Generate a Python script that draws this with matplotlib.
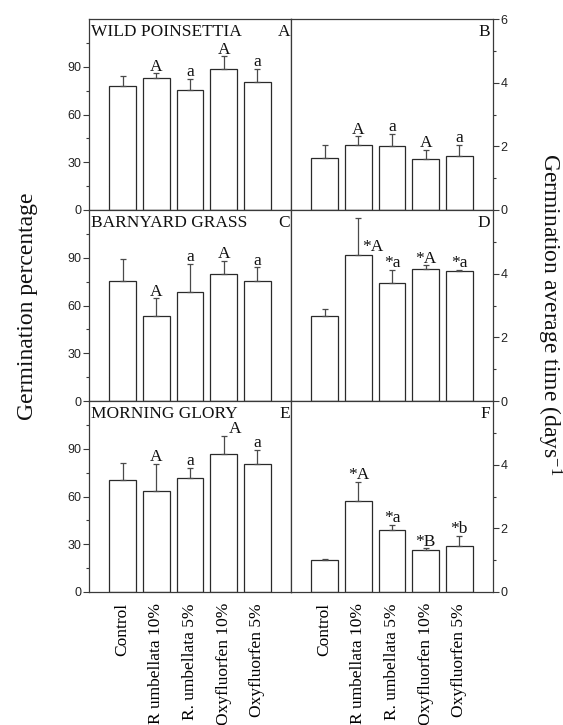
import matplotlib
matplotlib.use("Agg")
import matplotlib.pyplot as plt
import numpy as np

# ---------------- data ----------------
categories = ["Control", "R umbellata 10%", "R. umbellata 5%",
              "Oxyfluorfen 10%", "Oxyfluorfen 5%"]
species = ["WILD POINSETTIA", "BARNYARD GRASS", "MORNING GLORY"]

germ_wp = [77.8, 82.9, 75.3, 88.9, 80.4]
germ_wp_err = [6.3, 2.9, 6.9, 7.6, 8.1]
germ_bg = [75.1, 53.6, 68.5, 79.9, 75.1]
germ_bg_err = [13.9, 10.8, 17.4, 8.3, 8.9]
germ_mg = [70.3, 63.5, 71.6, 86.4, 80.5]
germ_mg_err = [10.8, 17.0, 6.3, 11.6, 8.9]

time_wp = [1.62, 2.03, 2.01, 1.60, 1.71]
time_wp_err = [0.41, 0.28, 0.39, 0.28, 0.34]
time_bg = [2.66, 4.59, 3.71, 4.14, 4.09]
time_bg_err = [0.23, 1.16, 0.42, 0.12, 0.03]
time_mg = [1.02, 2.87, 1.94, 1.31, 1.44]
time_mg_err = [0.02, 0.58, 0.16, 0.06, 0.32]

letters_A = ["", "A", "a", "A", "a"]
letters_B = ["", "A", "a", "A", "a"]
letters_C = ["", "A", "a", "A", "a"]
letters_D = ["", "*A", "*a", "*A", "*a"]
letters_E = ["", "A", "a", "A", "a"]
letters_F = ["", "*A", "*a", "*B", "*b"]

panel_ids = ["A", "B", "C", "D", "E", "F"]

# ---------------- style ----------------
plt.rcParams['mathtext.fontset'] = 'custom'
plt.rcParams['mathtext.rm'] = 'Liberation Serif'
plt.rcParams['mathtext.it'] = 'Liberation Serif:italic'
SERIF = ['Liberation Serif', 'DejaVu Serif']
SANS = ['Liberation Sans', 'DejaVu Sans']
EDGE = '#2a2a2a'
SPINE = '#3a3a3a'
ERRC = '#4a4a4a'

W, H = 563, 725
fig = plt.figure(figsize=(W / 100, H / 100), dpi=100)

left_x0, right_x0, pw = 89, 291, 202
row_tops = [19, 210, 401]
ph = 191

germ = [(germ_wp, germ_wp_err), (germ_bg, germ_bg_err), (germ_mg, germ_mg_err)]
times = [(time_wp, time_wp_err), (time_bg, time_bg_err), (time_mg, time_mg_err)]
letters = [(letters_A, letters_B), (letters_C, letters_D), (letters_E, letters_F)]

pos = np.arange(len(categories))


def draw(ax, vals, errs, labs, ylim, is_right, row):
    ax.bar(pos, vals, width=0.8, color='white', edgecolor=EDGE, linewidth=0.9, zorder=2)
    ax.errorbar(pos, vals, yerr=[np.zeros(len(vals)), errs], fmt='none',
                ecolor=ERRC, elinewidth=0.9, capsize=2.2, capthick=0.9, zorder=3)
    ax.set_xlim(-1, 5)
    ax.set_ylim(*ylim)
    for i, lab in enumerate(labs):
        if not lab:
            continue
        top = vals[i] + errs[i]
        dx, dy, ha = 0, 2, 'center'
        if is_right and row == 1 and i == 1:
            # label beside the long error bar
            top = vals[i]
            dx, dy, ha = 3, 3, 'left'
        if (not is_right) and row == 2 and i == 3:
            dx = 8
        ax.annotate(lab, (pos[i], top), xytext=(dx, dy), textcoords='offset points',
                    ha=ha, va='baseline', fontsize=12.5, family=SERIF, color='#111')
    for s in ax.spines.values():
        s.set_color(SPINE)
        s.set_linewidth(0.9)
    ax.set_xticks(pos)
    ax.tick_params(axis='x', length=0, pad=8)
    if row == 2:
        ax.set_xticklabels(categories, rotation=90, family=SERIF, fontsize=12.5,
                           va='top', ha='center')
    else:
        ax.set_xticklabels([])
    if is_right:
        ax.yaxis.tick_right()
        ax.set_yticks([0, 2, 4, 6] if row == 0 else [0, 2, 4])
        ax.set_yticks([1, 3, 5], minor=True)
    else:
        ax.set_yticks([0, 30, 60, 90])
        ax.set_yticks([15, 45, 75, 105], minor=True)
    ax.tick_params(axis='y', which='major', direction='out', length=4, width=0.8,
                   color=SPINE, labelsize=9, pad=1.5, labelcolor='#222')
    ax.tick_params(axis='y', which='minor', direction='out', length=2, width=0.8,
                   color=SPINE)
    for t in ax.get_yticklabels():
        t.set_family(SANS)


for r in range(3):
    top = row_tops[r]
    bottom_frac = 1 - (top + ph) / H
    h_frac = ph / H
    axl = fig.add_axes([left_x0 / W, bottom_frac, pw / W, h_frac])
    axr = fig.add_axes([right_x0 / W, bottom_frac, pw / W, h_frac])
    draw(axl, germ[r][0], germ[r][1], letters[r][0], (0, 120), False, r)
    draw(axr, times[r][0], times[r][1], letters[r][1], (0, 6), True, r)
    axl.text(0.012, 0.975, species[r], transform=axl.transAxes, ha='left', va='top',
             fontsize=12.5, family=SERIF, color='#111')
    axl.text(0.995, 0.975, panel_ids[2 * r], transform=axl.transAxes, ha='right',
             va='top', fontsize=12.5, family=SERIF, color='#111')
    axr.text(0.985, 0.975, panel_ids[2 * r + 1], transform=axr.transAxes, ha='right',
             va='top', fontsize=12.5, family=SERIF, color='#111')

fig.text(28 / W, 1 - 306 / H, "Germination percentage", rotation=90, ha='center',
         va='center', fontsize=17, family=SERIF, color='#111')
fig.text(549 / W, 1 - 314 / H, "Germination average time (days$^{-1}$", rotation=270,
         ha='center', va='center', fontsize=17, family=SERIF, color='#111')

fig.savefig("out.png", dpi=100)
